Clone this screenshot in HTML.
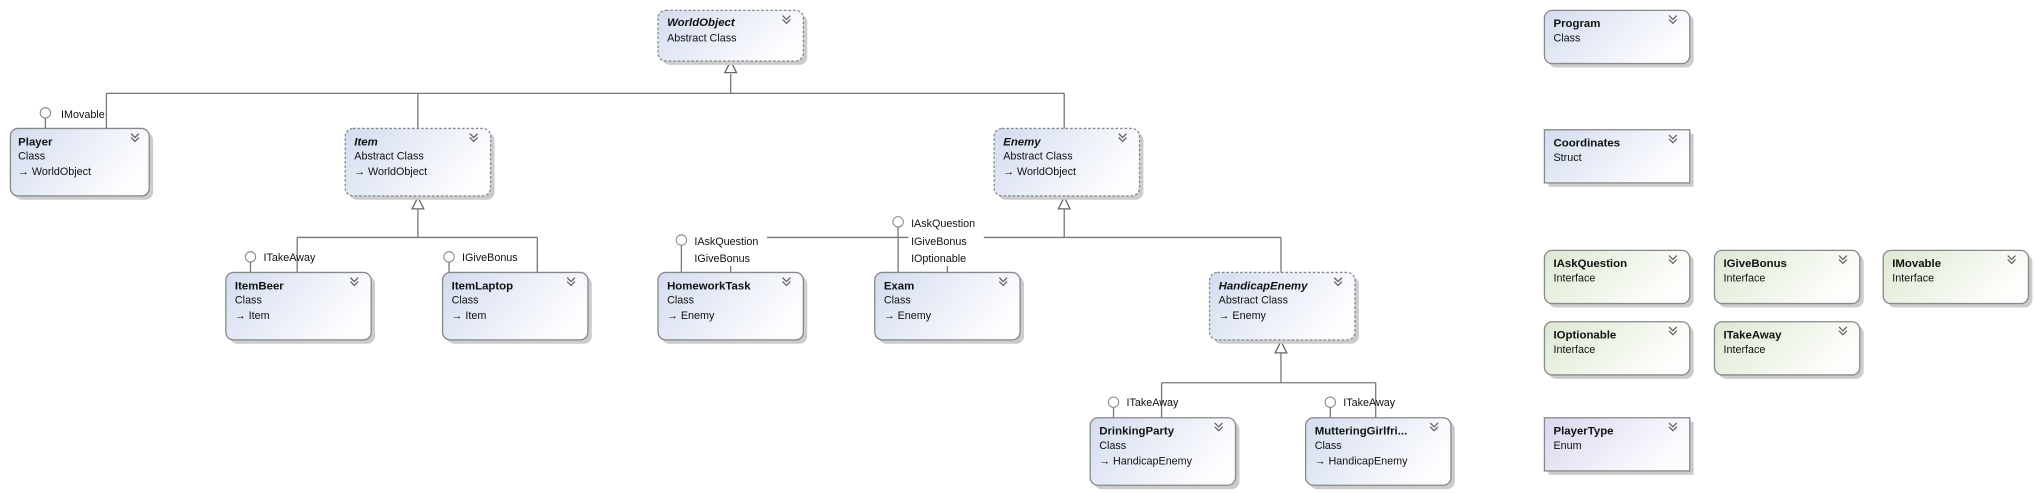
<!DOCTYPE html>
<html><head><meta charset="utf-8"><style>
html,body{margin:0;padding:0;background:#fff;}
svg{display:block;}
text{font-family:"Liberation Sans",sans-serif;font-size:8.3px;fill:#111;}
.t{font-weight:bold;font-size:8.8px;}
.i{font-style:italic;}
</style></head><body>
<svg width="2035" height="493" viewBox="0 0 1568 380" preserveAspectRatio="none" xmlns="http://www.w3.org/2000/svg">
<defs>
<linearGradient id="gb" x1="0" y1="0" x2="1" y2="0.4"><stop offset="0" stop-color="#d3dcef"/><stop offset="1" stop-color="#fdfdff"/></linearGradient>
<linearGradient id="gg" x1="0" y1="0" x2="1" y2="0.4"><stop offset="0" stop-color="#dde9d3"/><stop offset="1" stop-color="#fdfefb"/></linearGradient>
<linearGradient id="gp" x1="0" y1="0" x2="1" y2="0.4"><stop offset="0" stop-color="#dcd6ef"/><stop offset="1" stop-color="#fcfcff"/></linearGradient>
<polygon id="tri" points="0,0 -4.5,9 4.5,9" fill="#fff" stroke="#666" stroke-width="1"/>
</defs>
<g stroke="#777" stroke-width="1" fill="none">
<!-- WorldObject hierarchy -->
<line x1="563" y1="57" x2="563" y2="72"/>
<line x1="82" y1="72" x2="820" y2="72"/>
<line x1="82" y1="72" x2="82" y2="99"/>
<line x1="322" y1="72" x2="322" y2="99"/>
<line x1="820" y1="72" x2="820" y2="99"/>
<!-- Item -->
<line x1="322" y1="161" x2="322" y2="183"/>
<line x1="229" y1="183" x2="414" y2="183"/>
<line x1="229" y1="183" x2="229" y2="210"/>
<line x1="414" y1="183" x2="414" y2="210"/>
<!-- Enemy -->
<line x1="820" y1="161" x2="820" y2="183"/>
<line x1="563" y1="183" x2="987" y2="183"/>
<line x1="563" y1="183" x2="563" y2="210"/>
<line x1="730" y1="183" x2="730" y2="210"/>
<line x1="987" y1="183" x2="987" y2="210"/>
<!-- Handicap -->
<line x1="987" y1="272" x2="987" y2="295"/>
<line x1="895" y1="295" x2="1060" y2="295"/>
<line x1="895" y1="295" x2="895" y2="322"/>
<line x1="1060" y1="295" x2="1060" y2="322"/>
<!-- lollipop stems -->
<line x1="35" y1="91" x2="35" y2="99"/>
<line x1="193" y1="202" x2="193" y2="210"/>
<line x1="346" y1="202" x2="346" y2="210"/>
<line x1="525" y1="189" x2="525" y2="210"/>
<line x1="692" y1="175" x2="692" y2="210"/>
<line x1="858" y1="314" x2="858" y2="322"/>
<line x1="1025" y1="314" x2="1025" y2="322"/>
</g>
<use href="#tri" x="563" y="47"/>
<use href="#tri" x="322" y="152"/>
<use href="#tri" x="820" y="152"/>
<use href="#tri" x="987" y="263"/>
<g fill="#fff" stroke="#888" stroke-width="0.8">
<circle cx="35" cy="87" r="4"/><circle cx="193" cy="198" r="4"/><circle cx="346" cy="198" r="4"/>
<circle cx="525" cy="185" r="4"/><circle cx="692" cy="171" r="4"/><circle cx="858" cy="310" r="4"/><circle cx="1025" cy="310" r="4"/>
</g>
<!-- lollipop labels with white bg -->
<g fill="#fff">
<rect x="533" y="181" width="58" height="24"/><rect x="700" y="167" width="58" height="38"/>
</g>
<text x="47" y="91">IMovable</text>
<text x="203" y="201">ITakeAway</text>
<text x="356" y="201">IGiveBonus</text>
<text x="535" y="189">IAskQuestion</text><text x="535" y="202">IGiveBonus</text>
<text x="702" y="175">IAskQuestion</text><text x="702" y="189">IGiveBonus</text><text x="702" y="202">IOptionable</text>
<text x="868" y="313">ITakeAway</text>
<text x="1035" y="313">ITakeAway</text>

<!-- boxes -->
<g id="boxes">
<!-- rounded class boxes -->
<g>
<rect x="510" y="11" width="112" height="39" rx="6" fill="#ccc"/>
<rect x="507" y="8" width="112" height="39" rx="6" fill="url(#gb)" stroke="#888" stroke-dasharray="2,1.5"/>
<text class="t i" x="514" y="20">WorldObject</text><text x="514" y="32">Abstract Class</text>
</g>
<g>
<rect x="11" y="102" width="107" height="52" rx="6" fill="#ccc"/>
<rect x="8" y="99" width="107" height="52" rx="6" fill="url(#gb)" stroke="#888"/>
<text class="t" x="14" y="112">Player</text><text x="14" y="123">Class</text><text x="14" y="135">→ WorldObject</text>
</g>
<g>
<rect x="269" y="102" width="112" height="52" rx="6" fill="#ccc"/>
<rect x="266" y="99" width="112" height="52" rx="6" fill="url(#gb)" stroke="#888" stroke-dasharray="2,1.5"/>
<text class="t i" x="273" y="112">Item</text><text x="273" y="123">Abstract Class</text><text x="273" y="135">→ WorldObject</text>
</g>
<g>
<rect x="769" y="102" width="112" height="52" rx="6" fill="#ccc"/>
<rect x="766" y="99" width="112" height="52" rx="6" fill="url(#gb)" stroke="#888" stroke-dasharray="2,1.5"/>
<text class="t i" x="773" y="112">Enemy</text><text x="773" y="123">Abstract Class</text><text x="773" y="135">→ WorldObject</text>
</g>
<g>
<rect x="177" y="213" width="112" height="52" rx="6" fill="#ccc"/>
<rect x="174" y="210" width="112" height="52" rx="6" fill="url(#gb)" stroke="#888"/>
<text class="t" x="181" y="223">ItemBeer</text><text x="181" y="234">Class</text><text x="181" y="246">→ Item</text>
</g>
<g>
<rect x="344" y="213" width="112" height="52" rx="6" fill="#ccc"/>
<rect x="341" y="210" width="112" height="52" rx="6" fill="url(#gb)" stroke="#888"/>
<text class="t" x="348" y="223">ItemLaptop</text><text x="348" y="234">Class</text><text x="348" y="246">→ Item</text>
</g>
<g>
<rect x="510" y="213" width="112" height="52" rx="6" fill="#ccc"/>
<rect x="507" y="210" width="112" height="52" rx="6" fill="url(#gb)" stroke="#888"/>
<text class="t" x="514" y="223">HomeworkTask</text><text x="514" y="234">Class</text><text x="514" y="246">→ Enemy</text>
</g>
<g>
<rect x="677" y="213" width="112" height="52" rx="6" fill="#ccc"/>
<rect x="674" y="210" width="112" height="52" rx="6" fill="url(#gb)" stroke="#888"/>
<text class="t" x="681" y="223">Exam</text><text x="681" y="234">Class</text><text x="681" y="246">→ Enemy</text>
</g>
<g>
<rect x="935" y="213" width="112" height="52" rx="6" fill="#ccc"/>
<rect x="932" y="210" width="112" height="52" rx="6" fill="url(#gb)" stroke="#888" stroke-dasharray="2,1.5"/>
<text class="t i" x="939" y="223">HandicapEnemy</text><text x="939" y="234">Abstract Class</text><text x="939" y="246">→ Enemy</text>
</g>
<g>
<rect x="843" y="325" width="112" height="52" rx="6" fill="#ccc"/>
<rect x="840" y="322" width="112" height="52" rx="6" fill="url(#gb)" stroke="#888"/>
<text class="t" x="847" y="335">DrinkingParty</text><text x="847" y="346">Class</text><text x="847" y="358">→ HandicapEnemy</text>
</g>
<g>
<rect x="1009" y="325" width="112" height="52" rx="6" fill="#ccc"/>
<rect x="1006" y="322" width="112" height="52" rx="6" fill="url(#gb)" stroke="#888"/>
<text class="t" x="1013" y="335">MutteringGirlfri...</text><text x="1013" y="346">Class</text><text x="1013" y="358">→ HandicapEnemy</text>
</g>
<!-- right column -->
<g>
<rect x="1193" y="11" width="112" height="41" rx="6" fill="#ccc"/>
<rect x="1190" y="8" width="112" height="41" rx="6" fill="url(#gb)" stroke="#888"/>
<text class="t" x="1197" y="21">Program</text><text x="1197" y="32">Class</text>
</g>
<g>
<rect x="1193" y="103" width="112" height="41" fill="#ccc"/>
<rect x="1190" y="100" width="112" height="41" fill="url(#gb)" stroke="#888"/>
<text class="t" x="1197" y="113">Coordinates</text><text x="1197" y="124">Struct</text>
</g>
<g>
<rect x="1193" y="196" width="112" height="41" rx="6" fill="#ccc"/>
<rect x="1190" y="193" width="112" height="41" rx="6" fill="url(#gg)" stroke="#888"/>
<text class="t" x="1197" y="206">IAskQuestion</text><text x="1197" y="217">Interface</text>
</g>
<g>
<rect x="1324" y="196" width="112" height="41" rx="6" fill="#ccc"/>
<rect x="1321" y="193" width="112" height="41" rx="6" fill="url(#gg)" stroke="#888"/>
<text class="t" x="1328" y="206">IGiveBonus</text><text x="1328" y="217">Interface</text>
</g>
<g>
<rect x="1454" y="196" width="112" height="41" rx="6" fill="#ccc"/>
<rect x="1451" y="193" width="112" height="41" rx="6" fill="url(#gg)" stroke="#888"/>
<text class="t" x="1458" y="206">IMovable</text><text x="1458" y="217">Interface</text>
</g>
<g>
<rect x="1193" y="251" width="112" height="41" rx="6" fill="#ccc"/>
<rect x="1190" y="248" width="112" height="41" rx="6" fill="url(#gg)" stroke="#888"/>
<text class="t" x="1197" y="261">IOptionable</text><text x="1197" y="272">Interface</text>
</g>
<g>
<rect x="1324" y="251" width="112" height="41" rx="6" fill="#ccc"/>
<rect x="1321" y="248" width="112" height="41" rx="6" fill="url(#gg)" stroke="#888"/>
<text class="t" x="1328" y="261">ITakeAway</text><text x="1328" y="272">Interface</text>
</g>
<g>
<rect x="1193" y="325" width="112" height="41" fill="#ccc"/>
<rect x="1190" y="322" width="112" height="41" fill="url(#gp)" stroke="#888"/>
<text class="t" x="1197" y="335">PlayerType</text><text x="1197" y="346">Enum</text>
</g>
</g>
<!-- chevrons -->
<g fill="none" stroke="#666" stroke-width="1">
<path id="chev" d="M-3,-3 L0,0 L3,-3 M-3,0 L0,3 L3,0" transform="translate(606,15)"/>
<path d="M-3,-3 L0,0 L3,-3 M-3,0 L0,3 L3,0" transform="translate(104,106)"/>
<path d="M-3,-3 L0,0 L3,-3 M-3,0 L0,3 L3,0" transform="translate(365,106)"/>
<path d="M-3,-3 L0,0 L3,-3 M-3,0 L0,3 L3,0" transform="translate(865,106)"/>
<path d="M-3,-3 L0,0 L3,-3 M-3,0 L0,3 L3,0" transform="translate(273,217)"/>
<path d="M-3,-3 L0,0 L3,-3 M-3,0 L0,3 L3,0" transform="translate(440,217)"/>
<path d="M-3,-3 L0,0 L3,-3 M-3,0 L0,3 L3,0" transform="translate(606,217)"/>
<path d="M-3,-3 L0,0 L3,-3 M-3,0 L0,3 L3,0" transform="translate(773,217)"/>
<path d="M-3,-3 L0,0 L3,-3 M-3,0 L0,3 L3,0" transform="translate(1031,217)"/>
<path d="M-3,-3 L0,0 L3,-3 M-3,0 L0,3 L3,0" transform="translate(939,329)"/>
<path d="M-3,-3 L0,0 L3,-3 M-3,0 L0,3 L3,0" transform="translate(1105,329)"/>
<path d="M-3,-3 L0,0 L3,-3 M-3,0 L0,3 L3,0" transform="translate(1289,15)"/>
<path d="M-3,-3 L0,0 L3,-3 M-3,0 L0,3 L3,0" transform="translate(1289,107)"/>
<path d="M-3,-3 L0,0 L3,-3 M-3,0 L0,3 L3,0" transform="translate(1289,200)"/>
<path d="M-3,-3 L0,0 L3,-3 M-3,0 L0,3 L3,0" transform="translate(1420,200)"/>
<path d="M-3,-3 L0,0 L3,-3 M-3,0 L0,3 L3,0" transform="translate(1550,200)"/>
<path d="M-3,-3 L0,0 L3,-3 M-3,0 L0,3 L3,0" transform="translate(1289,255)"/>
<path d="M-3,-3 L0,0 L3,-3 M-3,0 L0,3 L3,0" transform="translate(1420,255)"/>
<path d="M-3,-3 L0,0 L3,-3 M-3,0 L0,3 L3,0" transform="translate(1289,329)"/>
</g>
</svg>
</body></html>
